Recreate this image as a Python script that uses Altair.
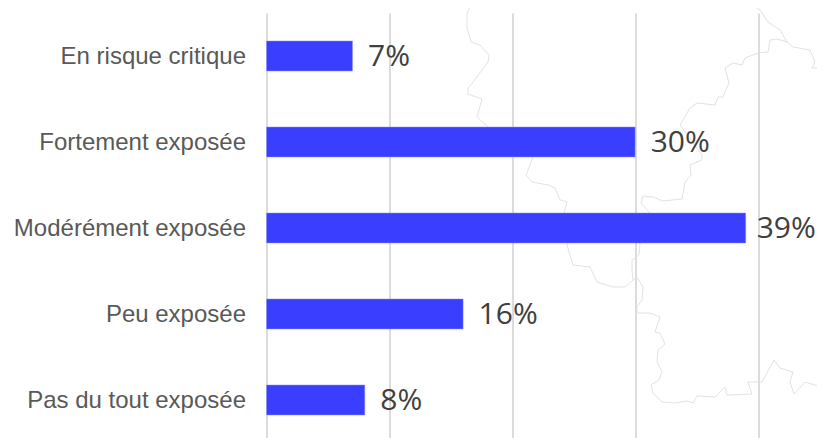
import altair as alt
import pandas as pd

categories = ["En risque critique", "Fortement exposée", "Modérément exposée", "Peu exposée", "Pas du tout exposée"]
values = [7, 30, 39, 16, 8]
labels = ["7%", "30%", "39%", "16%", "8%"]

# Faint background map outline
border_west_x = [473, 473, 467, 467, 471, 480, 489, 488, 473, 468, 468, 482, 477, 488, 533, 526, 532, 548, 555, 560, 567, 564, 567, 573, 590, 597, 613, 625, 633, 632, 632, 639, 640, 650, 641, 643, 653, 663, 682, 685, 691, 690, 702, 702, 680, 690, 697, 715, 718, 723, 729, 725, 733, 742, 745, 758, 768, 770, 777, 787, 780, 768, 760, 750, 749]
border_west_y = [0, 3, 13, 28, 42, 45, 55, 62, 82, 88, 94, 99, 117, 127, 157, 175, 182, 185, 188, 200, 202, 213, 245, 265, 267, 282, 287, 287, 280, 270, 260, 255, 243, 213, 203, 196, 197, 201, 199, 182, 175, 165, 160, 155, 125, 108, 103, 105, 97, 97, 83, 68, 63, 65, 58, 53, 52, 40, 39, 42, 30, 22, 10, 3, 0]
border_east_x = [787, 793, 810, 815, 812, 823]
border_east_y = [42, 47, 50, 62, 68, 68]
border_south_x = [633, 637, 643, 642, 637, 637, 650, 660, 655, 660, 665, 658, 657, 662, 659, 651, 653, 662, 675, 687, 693, 697, 715, 725, 727, 752, 748, 762, 774, 780, 793, 790, 794, 805, 818, 825]
border_south_y = [280, 277, 287, 300, 307, 313, 313, 317, 332, 333, 344, 350, 362, 372, 380, 385, 393, 402, 403, 401, 403, 396, 397, 387, 395, 394, 382, 382, 360, 368, 372, 382, 394, 382, 386, 377]

rows = []
for name, xs, ys in [("west", border_west_x, border_west_y),
                     ("east", border_east_x, border_east_y),
                     ("south", border_south_x, border_south_y)]:
    for i, (a, b) in enumerate(zip(xs, ys)):
        rows.append({"seg": name, "i": i, "mx": a, "my": b})
map_df = pd.DataFrame(rows)
df = pd.DataFrame({"cat": categories, "v": values, "label": labels})
df_inner = df[df["v"] < 39]
df_edge = df[df["v"] >= 39]

map_layer = alt.Chart(map_df).mark_line(color="#e2e2e2", strokeWidth=1, interpolate="linear").encode(
    x=alt.X("mx:Q", axis=None, scale=alt.Scale(domain=[266.5, 758], nice=False, zero=False)),
    y=alt.Y("my:Q", axis=None, scale=alt.Scale(domain=[13, 443], reverse=True, nice=False, zero=False)),
    detail="seg:N",
    order="i:Q",
)

band = alt.Scale(domain=categories, paddingInner=0.651, paddingOuter=0.3255)
x_scale = alt.Scale(domain=[0, 40], nice=False)

bars = alt.Chart(df).mark_bar(color="#3a3fff", stroke="#8f92ff", strokeWidth=0.5).encode(
    x=alt.X("v:Q", scale=x_scale, axis=alt.Axis(
        title=None, values=[0, 10, 20, 30, 40], labels=False, ticks=False, domain=False,
        grid=True, gridColor="#dcdcdc", gridWidth=2, orient="bottom")),
    y=alt.Y("cat:N", sort=categories, title=None, scale=band,
            axis=alt.Axis(ticks=False, domain=False, grid=False, labelFont="Liberation Sans", labelFontSize=24,
                          labelColor="#595959", labelPadding=21, labelLimit=300, labelOffset=1, orient="left")),
)


def text_layer(data, dx):
    return alt.Chart(data).mark_text(align="left", baseline="middle", dx=dx, dy=1, font="Open Sans", fontSize=30, color="#404040").encode(
        x=alt.X("v:Q", scale=x_scale, axis=None),
        y=alt.Y("cat:N", sort=categories, scale=band, axis=None),
        text="label:N",
    )


chart = alt.layer(map_layer, bars, text_layer(df_inner, 15.5), text_layer(df_edge, 11)).resolve_scale(
    x="independent", y="independent").resolve_axis(x="independent", y="independent").properties(
    width=491.5, height=430,
    padding={"left": 258.5, "top": 5, "right": 59, "bottom": 0},
    autosize=alt.AutoSizeParams(type="none"),
    background="white",
).configure_view(stroke=None)

chart.save("out.html", embed_options={"renderer": "svg", "actions": False})
